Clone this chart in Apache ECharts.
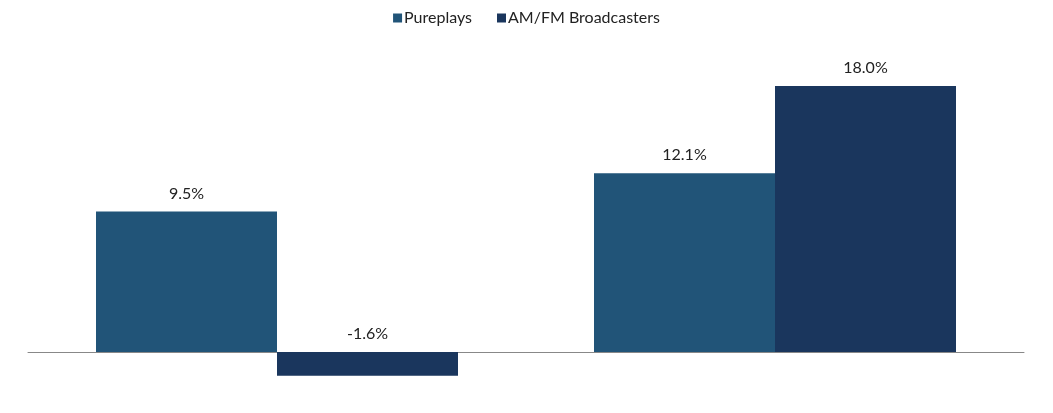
<!DOCTYPE html><html><head><meta charset="utf-8"><script src="https://cdn.jsdelivr.net/npm/echarts@6/dist/echarts.min.js"></script></head><body style="margin:0"><div id="c" style="width:1053px;height:413px"></div><script>
const categories=['Year-to-Date','Year-over-Year'];
const pureplays=[9.5,12.1];
const broadcasters=[-1.6,18.0];
const ch=echarts.init(document.getElementById('c'));
const lbl={show:true,position:'top',distance:10,color:'#222',fontSize:16,fontFamily:'Lato',formatter:p=>p.value.toFixed(1)+'%'};
ch.setOption({
textStyle:{fontFamily:'Lato'},
legend:{top:5,left:'center',itemWidth:9,itemHeight:9,itemGap:25,icon:'rect',textStyle:{fontSize:16,color:'#222',padding:[0,0,0,-3]}},
grid:{left:28,right:29,top:56.4,bottom:413-381.6,containLabel:false,outerBoundsMode:'none'},
xAxis:{type:'category',data:categories,axisTick:{show:false},axisLine:{lineStyle:{color:'#888'}},axisLabel:{fontSize:16,color:'#222',margin:41}},
yAxis:{type:'value',min:-2,max:20,show:false,splitLine:{show:false}},
series:[
{name:'Pureplays',type:'bar',data:pureplays,barWidth:181,barGap:'0%',itemStyle:{color:'#215478'},label:lbl},
{name:'AM/FM Broadcasters',type:'bar',data:broadcasters,barWidth:181,itemStyle:{color:'#1a365d'},label:lbl}
]});
</script></body></html>
